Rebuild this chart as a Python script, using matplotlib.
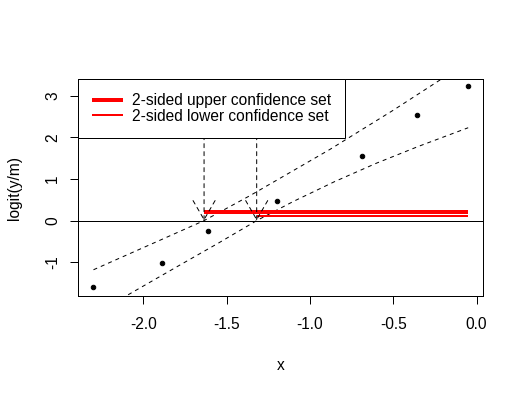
import matplotlib
matplotlib.use("Agg")
import matplotlib.pyplot as plt

plt.rcParams['font.family'] = ['Liberation Sans', 'DejaVu Sans']
plt.rcParams['axes.unicode_minus'] = False

# observed points
x = [-2.30, -1.89, -1.61, -1.20, -0.69, -0.36, -0.05]
logit_y = [-1.60, -1.02, -0.255, 0.47, 1.545, 2.536, 3.23]

# dashed confidence band curves
band_hi_x = [-2.30, -2.12, -1.90, -1.636, -1.36, -1.20, -0.88, -0.50, -0.21, -0.05]
band_hi_y = [-1.18, -0.86, -0.47, 0.0, 0.60, 0.97, 1.71, 2.65, 3.40, 3.82]
band_lo_x = [-2.30, -2.07, -1.80, -1.55, -1.32, -1.10, -0.85, -0.60, -0.35, -0.05]
band_lo_y = [-2.26, -1.73, -1.11, -0.54, 0.0, 0.46, 0.94, 1.38, 1.78, 2.23]

# confidence sets
upper_set_x = [-1.636, -0.05]
upper_set_y = [0.21, 0.21]
lower_set_x = [-1.32, -0.05]
lower_set_y = [0.10, 0.10]
arrow_x = [-1.636, -1.32]

xticks = [-2.0, -1.5, -1.0, -0.5, 0.0]
yticks = [-1, 0, 1, 2, 3]

fs = 15.5

fig = plt.figure(figsize=(523 / 72, 393 / 72), dpi=72)
ax = fig.add_axes([78 / 523, 1 - 296 / 393, 405 / 523, 217 / 393])

dash = (0, (4, 4))
ax.plot(band_hi_x, band_hi_y, color='black', lw=1, linestyle=dash)
ax.plot(band_lo_x, band_lo_y, color='black', lw=1, linestyle=dash)
ax.axhline(0, color='black', lw=1)
ax.plot(x, logit_y, 'o', color='black', markersize=4.5)

for xa in arrow_x:
    ax.annotate('', xy=(xa, 0), xytext=(xa, 3.0),
                arrowprops=dict(arrowstyle='->,head_length=1.9,head_width=1.1',
                                linestyle=dash, lw=1, color='black',
                                shrinkA=0, shrinkB=0, mutation_scale=10))

ax.plot(upper_set_x, upper_set_y, color='red', lw=4, solid_capstyle='butt',
        label='2-sided upper confidence set')
ax.plot(lower_set_x, lower_set_y, color='red', lw=2, solid_capstyle='butt',
        label='2-sided lower confidence set')

ax.set_xlim(-2.393, 0.039)
ax.set_ylim(-1.81, 3.40)
ax.set_xticks(xticks)
ax.set_xticklabels(['%.1f' % v for v in xticks])
ax.set_yticks(yticks)
ax.set_yticklabels([str(v) for v in yticks], rotation=90, va='center')
ax.tick_params(axis='both', length=8, width=1, labelsize=fs, color='black')
ax.tick_params(axis='x', pad=13)
ax.tick_params(axis='y', pad=10)
for s in ax.spines.values():
    s.set_linewidth(1)

ax.set_xlabel('x', fontsize=fs, labelpad=26)
ax.set_ylabel('logit(y/m)', fontsize=fs, labelpad=23)

leg = ax.legend(loc='upper left', borderaxespad=0, fontsize=fs, fancybox=False,
                framealpha=1, edgecolor='black', borderpad=0.9,
                handlelength=2.0, handletextpad=0.6, labelspacing=0.05)
leg.get_frame().set_linewidth(1)
leg.set_zorder(5)

fig.savefig('out.png', dpi=72)
